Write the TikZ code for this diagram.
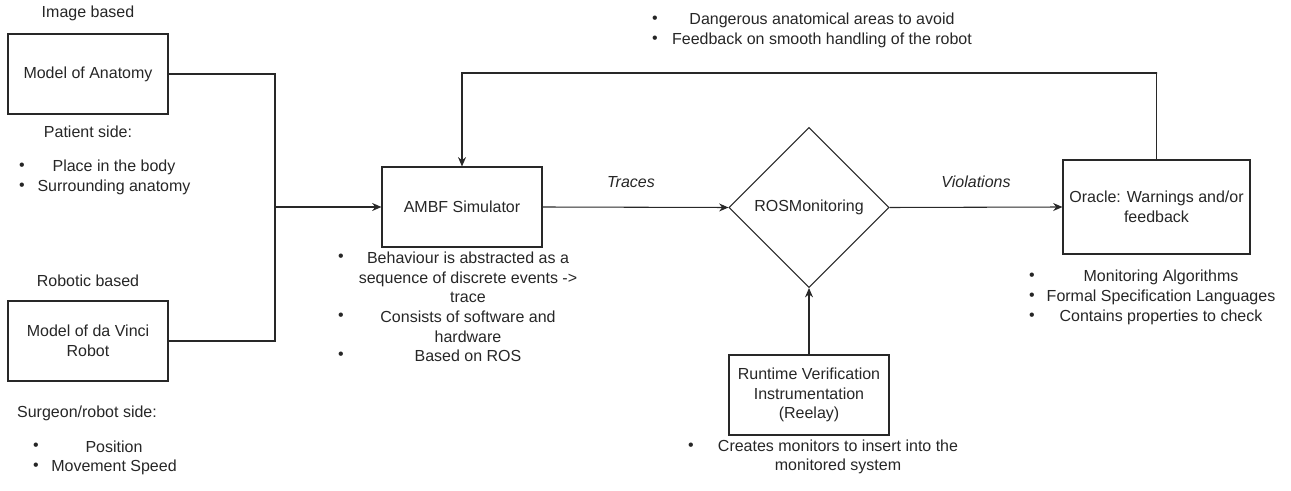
\documentclass[tikz,border=0pt]{standalone}
\usepackage{fontspec}
\setmainfont{Liberation Sans}
\usetikzlibrary{shapes.geometric,arrows.meta}
\definecolor{linegray}{RGB}{40,40,40}
\begin{document}
\begin{tikzpicture}[x=0.75pt,y=-0.75pt,
  every node/.style={font=\fontsize{12}{14.6}\selectfont, inner sep=0pt, text=black!85},
  boxnode/.style={draw=linegray, line width=0.8pt, minimum width=120pt, minimum height=60pt, align=center},
  txt/.style={align=center},
  bul/.style={font=\fontsize{12}{14.6}\selectfont},
  conn/.style={draw=linegray, line width=0.8pt},
  arr/.style={conn, -{Stealth[length=7pt,width=6pt]}},
  lbl/.style={font=\fontsize{12}{14.6}\selectfont\itshape}
]
\useasboundingbox (0,0) rectangle (1291,491);

% main nodes
\node[boxnode] (anat) at (88,74) {Model of Anatomy};
\node[boxnode] (robot) at (88,341) {Model of da Vinci\\Robot};
\node[boxnode] (ambf) at (462,207) {AMBF Simulator};
\node[draw=linegray, line width=0.8pt, diamond, aspect=1, minimum width=120pt, minimum height=120pt] (ros) at (809,207.5) {ROSMonitoring};
\node[boxnode] (rv) at (809,395) {Runtime Verification\\Instrumentation\\(Reelay)};
\node[boxnode, minimum width=140.25pt, minimum height=70.5pt] (oracle) at (1156.5,207) {Oracle: Warnings and/or\\feedback};

% connectors
\coordinate (J) at (275,207);
\coordinate (top) at (1157,73);
\draw[conn] (anat.east) -| (J);
\draw[conn] (robot.east) -| (J);
\draw[arr] (J) -- (ambf.west);
\draw[arr] (ambf.east) -- (ros.west);
\draw[arr] (ros.east) -- (oracle.west);
\draw[arr] (rv.north) -- (ros.south);
\draw[arr] (oracle.north) |- (top) -| (ambf.north);

\node[lbl] (tr) at (631,182) {Traces};
\node[lbl] (vi) at (976,182) {Violations};

% left annotations
\node[txt] (ib) at (88,13) {Image based};
\node[txt] (ps) at (88,132) {Patient side:};
\node[bul] (b1) at (22,167) {•};
\node[bul] (b2) at (22,187) {•};
\node[txt] (t1) at (114,167) {Place in the body};
\node[txt] (t2) at (114,187) {Surrounding anatomy};

\node[txt] (rb) at (88,281) {Robotic based};
\node[txt] (ss) at (87,413) {Surgeon/robot side:};
\node[bul] (b3) at (36,447) {•};
\node[bul] (b4) at (36,467) {•};
\node[txt] (t3) at (114,447) {Position};
\node[txt] (t4) at (114,467) {Movement Speed};

% AMBF annotations
\node[bul] (b5) at (341,258) {•};
\node[bul] (b6) at (341,317) {•};
\node[bul] (b7) at (341,356) {•};
\node[txt] (t5) at (468,277.5) {Behaviour is abstracted as a\\sequence of discrete events ->\\trace};
\node[txt] (t6) at (468,327) {Consists of software and\\hardware};
\node[txt] (t7) at (468,356) {Based on ROS};

% runtime annotation
\node[bul] (b8) at (691,447) {•};
\node[txt] (t8) at (838,457) {Creates monitors to insert into the\\monitored system};

% top annotation
\node[bul] (b9) at (655,20) {•};
\node[bul] (b10) at (655,40) {•};
\node[txt] (t9) at (822,20) {Dangerous anatomical areas to avoid};
\node[txt] (t10) at (822,40) {Feedback on smooth handling of the robot};

% oracle annotations
\node[bul] (b11) at (1032,277) {•};
\node[bul] (b12) at (1032,297) {•};
\node[bul] (b13) at (1032,317) {•};
\node[txt] (t11) at (1161,277) {Monitoring Algorithms};
\node[txt] (t12) at (1161,297) {Formal Specification Languages};
\node[txt] (t13) at (1161,317) {Contains properties to check};
\end{tikzpicture}
\end{document}
